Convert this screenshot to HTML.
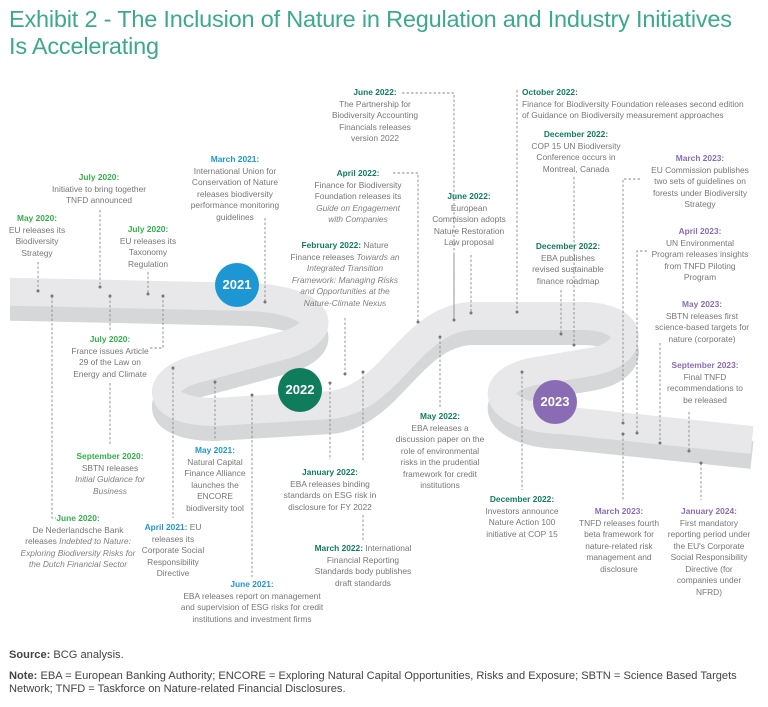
<!DOCTYPE html>
<html><head><meta charset="utf-8">
<style>
html,body{margin:0;padding:0;background:#fff;}
body{width:768px;height:707px;position:relative;overflow:hidden;font-family:"Liberation Sans",sans-serif;}
#title{position:absolute;left:9px;top:6px;font-family:"Liberation Sans Narrow","Liberation Sans",sans-serif;font-size:23.5px;line-height:27px;color:#3ba98d;letter-spacing:-0.2px;}
svg{position:absolute;left:0;top:0;}
.lb{position:absolute;transform:translateX(-50%);text-align:center;white-space:nowrap;font-size:8.4px;line-height:11.5px;color:#777;}
.lb b{font-weight:bold;}
.g{color:#33b04c}.bl{color:#1d97d4}.dg{color:#0f7d5c}.pu{color:#8a6cb5}
.lb i{font-style:italic;color:#808080;}
.yr{position:absolute;width:44px;height:44px;border-radius:50%;color:#fff;font-weight:bold;font-size:13px;line-height:44px;text-align:center;}
.ft{position:absolute;left:9px;font-size:11.1px;line-height:13px;color:#444;}
</style></head><body>
<div id="title">Exhibit 2 - The Inclusion of Nature in Regulation and Industry Initiatives<br>Is Accelerating</div>

<svg width="768" height="707">
<g fill="none" stroke-linejoin="round">
<path transform="translate(0,15)" stroke="#d6d7d9" stroke-width="28" d="M -20 291 L 250 297 C 320 300 335 330 285 345 L 200 368 C 150 380 155 412 215 412 L 330 405 C 390 400 410 320 470 316 L 585 316 C 640 318 635 355 590 362 L 530 372 C 480 385 500 418 560 420 L 752 440"/>
<path stroke="#e8e8ea" stroke-width="28" d="M -20 291 L 250 297 C 320 300 335 330 285 345 L 200 368 C 150 380 155 412 215 412 L 330 405 C 390 400 410 320 470 316 L 585 316 C 640 318 635 355 590 362 L 530 372 C 480 385 500 418 560 420 L 752 440"/>
</g>
<rect x="0" y="260" width="10" height="80" fill="#fff"/>
<g stroke="#8a8a8a" stroke-width="0.9" stroke-dasharray="2.5,2" fill="none">
<path d="M38 262V291"/>
<path d="M100 210V287"/>
<path d="M148 272V294"/>
<path d="M265 218V302"/>
<path d="M150 348H163V296"/>
<path d="M110 296V330M110 383V445"/>
<path d="M52 296V518H56"/>
<path d="M173 368V518"/>
<path d="M215 382V440"/>
<path d="M252 395V577"/>
<path d="M330 383V460"/>
<path d="M363 372V460M363 515V540"/>
<path d="M345 318V374"/>
<path d="M393 173H418V322"/>
<path d="M402 93H454V320"/>
<path d="M471 255V313M454 255V320"/>
<path d="M440 337V408"/>
<path d="M517 90V312"/>
<path d="M574 177V345"/>
<path d="M561 290V334"/>
<path d="M522 372V490"/>
<path d="M640 179H623V423"/>
<path d="M647 251H637V433"/>
<path d="M660 343V443"/>
<path d="M689 412V451"/>
<path d="M623 434V500"/>
<path d="M701 463V500"/>
</g>
<g fill="#777">
<circle cx="38" cy="291" r="1.5"/><circle cx="100" cy="287" r="1.5"/><circle cx="148" cy="294" r="1.5"/>
<circle cx="265" cy="302" r="1.5"/><circle cx="163" cy="296" r="1.5"/><circle cx="110" cy="296" r="1.5"/>
<circle cx="52" cy="296" r="1.5"/><circle cx="173" cy="368" r="1.5"/><circle cx="215" cy="382" r="1.5"/>
<circle cx="252" cy="395" r="1.5"/><circle cx="330" cy="383" r="1.5"/><circle cx="363" cy="372" r="1.5"/>
<circle cx="345" cy="374" r="1.5"/><circle cx="418" cy="322" r="1.5"/><circle cx="454" cy="320" r="1.5"/>
<circle cx="471" cy="313" r="1.5"/><circle cx="440" cy="337" r="1.5"/><circle cx="517" cy="312" r="1.5"/>
<circle cx="574" cy="345" r="1.5"/><circle cx="561" cy="334" r="1.5"/><circle cx="522" cy="372" r="1.5"/>
<circle cx="623" cy="423" r="1.5"/><circle cx="637" cy="433" r="1.5"/><circle cx="660" cy="443" r="1.5"/>
<circle cx="689" cy="451" r="1.5"/><circle cx="623" cy="434" r="1.5"/><circle cx="701" cy="463" r="1.5"/>
</g>
</svg>

<div class="yr" style="left:215px;top:263px;background:#1d97d4">2021</div>
<div class="yr" style="left:278px;top:368px;background:#0f7d5c">2022</div>
<div class="yr" style="left:533px;top:380px;background:#8a6cb5">2023</div>

<div class="lb" style="left:37px;top:213px"><b class="g">May 2020:</b><br>EU releases its<br>Biodiversity<br>Strategy</div>
<div class="lb" style="left:99px;top:172px"><b class="g">July 2020:</b><br>Initiative to bring together<br>TNFD announced</div>
<div class="lb" style="left:148px;top:224px"><b class="g">July 2020:</b><br>EU releases its<br>Taxonomy<br>Regulation</div>
<div class="lb" style="left:235px;top:154px"><b class="bl">March 2021:</b><br>International Union for<br>Conservation of Nature<br>releases biodiversity<br>performance monitoring<br>guidelines</div>
<div class="lb" style="left:110px;top:334px"><b class="g">July 2020:</b><br>France issues Article<br>29 of the Law on<br>Energy and Climate</div>
<div class="lb" style="left:110px;top:451px"><b class="g">September 2020:</b><br>SBTN releases<br><i>Initial Guidance for</i><br><i>Business</i></div>
<div class="lb" style="left:78px;top:513px"><b class="g">June 2020:</b><br>De Nederlandsche Bank<br>releases <i>Indebted to Nature:</i><br><i>Exploring Biodiversity Risks for</i><br><i>the Dutch Financial Sector</i></div>
<div class="lb" style="left:173px;top:522px"><b class="bl">April 2021:</b> EU<br>releases its<br>Corporate Social<br>Responsibility<br>Directive</div>
<div class="lb" style="left:215px;top:445px"><b class="bl">May 2021:</b><br>Natural Capital<br>Finance Alliance<br>launches the<br>ENCORE<br>biodiversity tool</div>
<div class="lb" style="left:252px;top:579px"><b class="bl">June 2021:</b><br>EBA releases report on management<br>and supervision of ESG risks for credit<br>institutions and investment firms</div>
<div class="lb" style="left:330px;top:467px"><b class="dg">January 2022:</b><br>EBA releases binding<br>standards on ESG risk in<br>disclosure for FY 2022</div>
<div class="lb" style="left:363px;top:543px"><b class="dg">March 2022:</b> International<br>Financial Reporting<br>Standards body publishes<br>draft standards</div>
<div class="lb" style="left:345px;top:240px"><b class="dg">February 2022:</b> Nature<br>Finance releases <i>Towards an</i><br><i>Integrated Transition</i><br><i>Framework: Managing Risks</i><br><i>and Opportunities at the</i><br><i>Nature-Climate Nexus</i></div>
<div class="lb" style="left:358px;top:168px"><b class="dg">April 2022:</b><br>Finance for Biodiversity<br>Foundation releases its<br><i>Guide on Engagement</i><br><i>with Companies</i></div>
<div class="lb" style="left:375px;top:87px"><b class="dg">June 2022:</b><br>The Partnership for<br>Biodiversity Accounting<br>Financials releases<br>version 2022</div>
<div class="lb" style="left:469px;top:191px"><b class="dg">June 2022:</b><br>European<br>Commission adopts<br>Nature Restoration<br>Law proposal</div>
<div class="lb" style="left:440px;top:411px"><b class="dg">May 2022:</b><br>EBA releases a<br>discussion paper on the<br>role of environmental<br>risks in the prudential<br>framework for credit<br>institutions</div>
<div class="lb" style="left:522px;top:87px;transform:none;text-align:left"><b class="dg">October 2022:</b><br>Finance for Biodiversity Foundation releases second edition<br>of Guidance on Biodiversity measurement approaches</div>
<div class="lb" style="left:576px;top:129px"><b class="dg">December 2022:</b><br>COP 15 UN Biodiversity<br>Conference occurs in<br>Montreal, Canada</div>
<div class="lb" style="left:568px;top:241px"><b class="dg">December 2022:</b><br>EBA publishes<br>revised sustainable<br>finance roadmap</div>
<div class="lb" style="left:522px;top:494px"><b class="dg">December 2022:</b><br>Investors announce<br>Nature Action 100<br>initiative at COP 15</div>
<div class="lb" style="left:700px;top:153px"><b class="pu">March 2023:</b><br>EU Commission publishes<br>two sets of guidelines on<br>forests under Biodiversity<br>Strategy</div>
<div class="lb" style="left:700px;top:226px"><b class="pu">April 2023:</b><br>UN Environmental<br>Program releases insights<br>from TNFD Piloting<br>Program</div>
<div class="lb" style="left:702px;top:299px"><b class="pu">May 2023:</b><br>SBTN releases first<br>science-based targets for<br>nature (corporate)</div>
<div class="lb" style="left:705px;top:360px"><b class="pu">September 2023:</b><br>Final TNFD<br>recommendations to<br>be released</div>
<div class="lb" style="left:619px;top:506px"><b class="pu">March 2023:</b><br>TNFD releases fourth<br>beta framework for<br>nature-related risk<br>management and<br>disclosure</div>
<div class="lb" style="left:709px;top:506px"><b class="pu">January 2024:</b><br>First mandatory<br>reporting period under<br>the EU's Corporate<br>Social Responsibility<br>Directive (for<br>companies under<br>NFRD)</div>

<div class="ft" style="top:649px"><b>Source:</b> BCG analysis.</div>
<div class="ft" style="top:670px"><b>Note:</b> EBA = European Banking Authority; ENCORE = Exploring Natural Capital Opportunities, Risks and Exposure; SBTN = Science Based Targets<br>Network; TNFD = Taskforce on Nature-related Financial Disclosures.</div>
</body></html>
